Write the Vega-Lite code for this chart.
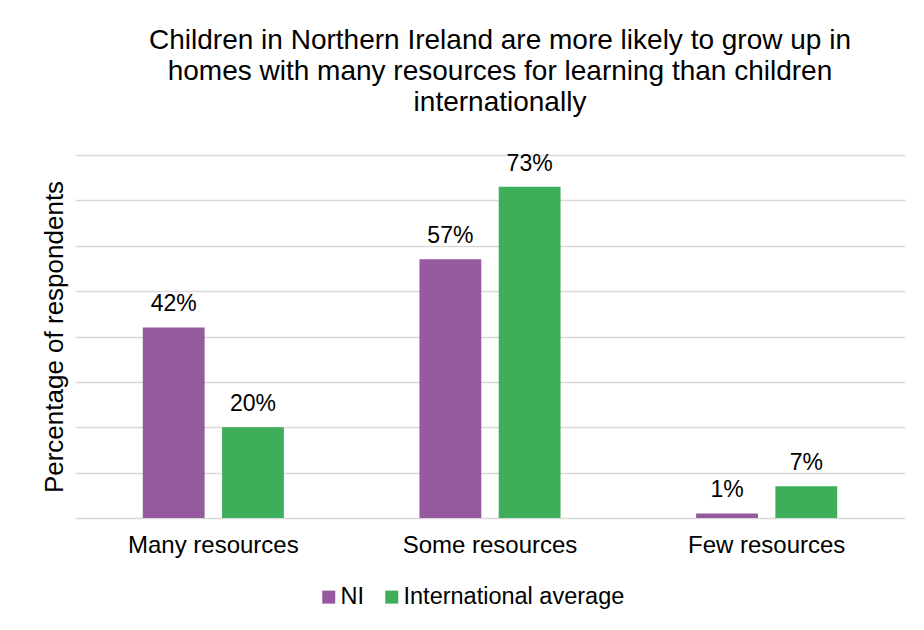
{
  "$schema": "https://vega.github.io/schema/vega-lite/v6.json",
  "width": 830,
  "height": 363,
  "autosize": {"type": "none"},
  "padding": {"left": 75, "top": 155, "right": 19, "bottom": 112},
  "background": "white",
  "title": {
    "text": ["Children in Northern Ireland are more likely to grow up in", "homes with many resources for learning than children", "internationally"],
    "fontSize": 28,
    "fontWeight": "normal",
    "color": "#000000",
    "anchor": "middle",
    "lineHeight": 31,
    "offset": 36,
    "dx": 10,
    "frame": "group"
  },
  "data": {
    "values": [
      {"category": "Many resources", "series": "NI", "value": 42, "label": "42%"},
      {"category": "Many resources", "series": "International average", "value": 20, "label": "20%"},
      {"category": "Some resources", "series": "NI", "value": 57, "label": "57%"},
      {"category": "Some resources", "series": "International average", "value": 73, "label": "73%"},
      {"category": "Few resources", "series": "NI", "value": 1, "label": "1%"},
      {"category": "Few resources", "series": "International average", "value": 7, "label": "7%"}
    ]
  },
  "encoding": {
    "x": {
      "field": "category",
      "type": "nominal",
      "sort": ["Many resources", "Some resources", "Few resources"],
      "scale": {"paddingInner": 0.49, "paddingOuter": 0.245},
      "axis": {"title": null, "labelAngle": 0, "ticks": false, "domain": false, "labelFontSize": 24, "labelPadding": 15, "labelColor": "#000000", "labelLimit": 400, "grid": false}
    },
    "xOffset": {
      "field": "series",
      "type": "nominal",
      "sort": ["NI", "International average"],
      "scale": {"paddingInner": 0.22, "paddingOuter": 0}
    },
    "y": {
      "field": "value",
      "type": "quantitative",
      "scale": {"domain": [0, 80], "nice": false},
      "axis": {
        "title": "Percentage of respondents",
        "labels": false,
        "ticks": false,
        "domain": false,
        "values": [0, 10, 20, 30, 40, 50, 60, 70, 80],
        "grid": true,
        "gridColor": "#d9d9d9",
        "gridWidth": 1.5,
        "titleFontSize": 26,
        "titleFontWeight": "normal",
        "titleColor": "#000000",
        "titlePadding": 8
      }
    }
  },
  "layer": [
    {
      "mark": {"type": "bar"},
      "encoding": {
        "color": {
          "field": "series",
          "type": "nominal",
          "sort": ["NI", "International average"],
          "scale": {"domain": ["NI", "International average"], "range": ["#955A9D", "#3EAE5B"]},
          "legend": {
            "orient": "none",
            "legendX": 242,
            "legendY": 430,
            "direction": "horizontal",
            "title": null,
            "symbolType": "square",
            "symbolSize": 169,
            "symbolStrokeWidth": 0,
            "labelFontSize": 23.5,
            "labelColor": "#000000",
            "labelOffset": 0,
            "labelLimit": 400,
            "columnPadding": 16
          }
        }
      }
    },
    {
      "mark": {"type": "text", "baseline": "alphabetic", "dy": -16, "fontSize": 23, "color": "#000000"},
      "encoding": {"text": {"field": "label", "type": "nominal"}}
    }
  ],
  "config": {"font": "Liberation Sans", "view": {"stroke": null}}
}
